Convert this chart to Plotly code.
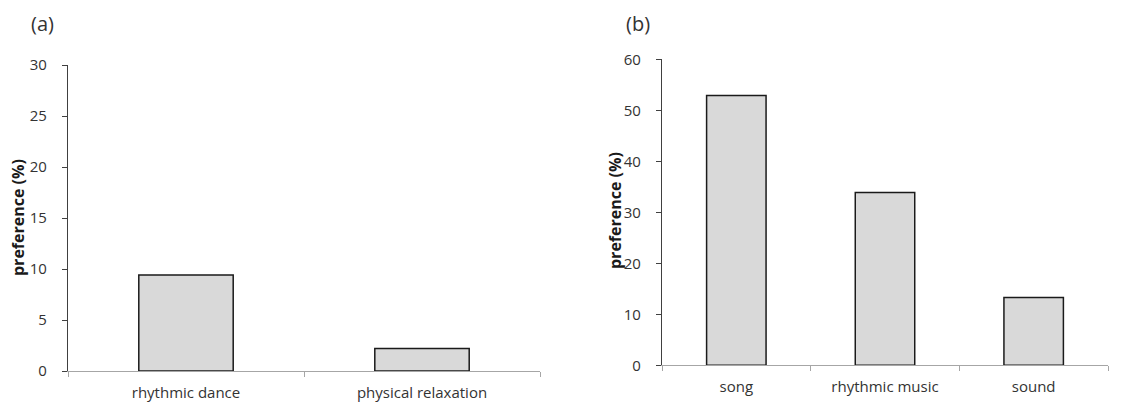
import plotly.graph_objects as go

cats_a = ["rhythmic dance", "physical relaxation"]
vals_a = [9.4, 2.2]
cats_b = ["song", "rhythmic music", "sound"]
vals_b = [52.9, 33.9, 13.3]
yticks_a = [0, 5, 10, 15, 20, 25, 30]
yticks_b = [0, 10, 20, 30, 40, 50, 60]

W, H = 1136, 404
OX, OY = 8, 8  # page body margin compensation
FONT = "Open Sans"
bar_style = dict(marker=dict(color="#d9d9d9", line=dict(color="#1a1a1a", width=1.5)), width=0.4)

fig = go.Figure()
fig.add_trace(go.Bar(x=cats_a, y=vals_a, xaxis="x", yaxis="y", **bar_style))
fig.add_trace(go.Bar(x=cats_b, y=vals_b, xaxis="x2", yaxis="y2", **bar_style))

def fx(px):
    return (px - OX) / W

def fy(py):
    return (H - (py - OY)) / H

xcommon = dict(showgrid=False, showline=True, linecolor="#a6a6a6", linewidth=1.2,
               ticks="outside", tickson="boundaries", ticklen=5, tickcolor="#a6a6a6",
               ticklabelstandoff=8,
               tickfont=dict(family=FONT, size=15, color="#333333"), zeroline=False,
               automargin=False)
ycommon = dict(showgrid=False, showline=True, linecolor="#404040", linewidth=1.2,
               ticks="outside", ticklen=5, tickcolor="#404040",
               ticklabelstandoff=12,
               tickfont=dict(family=FONT, size=15, color="#333333"), zeroline=False,
               automargin=False)

fig.update_layout(
    template="none",
    width=W, height=H, margin=dict(l=0, r=0, t=0, b=0, pad=0), autosize=False,
    paper_bgcolor="white", plot_bgcolor="white", showlegend=False,
    xaxis=dict(domain=[fx(68), fx(540)], anchor="y", **xcommon),
    yaxis=dict(domain=[fy(371), fy(65)], anchor="x", range=[0, 30], tickvals=yticks_a, **ycommon),
    xaxis2=dict(domain=[fx(662), fx(1108)], anchor="y2", **xcommon),
    yaxis2=dict(domain=[fy(365.3), fy(59.3)], anchor="x2", range=[0, 60], tickvals=yticks_b, **ycommon),
    annotations=[
        dict(text="(a)", x=fx(29), y=1.0, xref="paper", yref="paper", showarrow=False,
             xanchor="left", yanchor="top", font=dict(family=FONT, size=20, color="#333333")),
        dict(text="(b)", x=fx(624), y=1.0, xref="paper", yref="paper", showarrow=False,
             xanchor="left", yanchor="top", font=dict(family=FONT, size=20, color="#333333")),
        dict(text="<b>preference (%)</b>", x=fx(18), y=fy(218), xref="paper", yref="paper",
             showarrow=False, textangle=-90, xanchor="center", yanchor="middle",
             font=dict(family=FONT, size=16, color="#1a1a1a")),
        dict(text="<b>preference (%)</b>", x=fx(615), y=fy(211), xref="paper", yref="paper",
             showarrow=False, textangle=-90, xanchor="center", yanchor="middle",
             font=dict(family=FONT, size=16, color="#1a1a1a")),
    ],
)

fig.write_html("out.html")
